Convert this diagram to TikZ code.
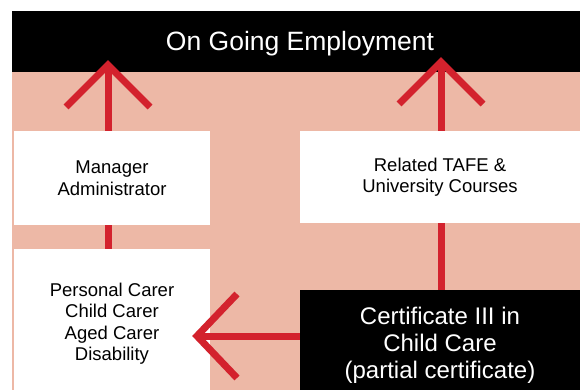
\documentclass[tikz,border=0pt]{standalone}
\usepackage{fontspec}
\setmainfont{Liberation Sans}
\usetikzlibrary{calc}
\definecolor{bgpink}{RGB}{237,184,166}
\definecolor{arrred}{RGB}{211,34,45}
\begin{document}
\begin{tikzpicture}[x=1pt,y=-1pt,
  redline/.style={draw=arrred, line width=7pt},
  headline/.style={draw=arrred, line width=7pt, line join=miter, miter limit=10},
  whitebox/.style={fill=white, inner sep=0pt, align=center, font=\fontsize{18.5}{21.5}\selectfont},
  blackbox/.style={fill=black, text=white, inner sep=0pt, align=center, font=\fontsize{24}{27}\selectfont},
  titletext/.style={text=white, inner sep=0pt, font=\fontsize{26.5}{30}\selectfont}]
\useasboundingbox (0,0) rectangle (580,390);
% background areas
\fill[bgpink] (12,72) rectangle (580,390);
\fill[black] (12,11) rectangle (580,72);
\node[titletext, anchor=base] (emp) at (300,51) {On Going Employment};
% boxes
\node[whitebox, minimum width=196pt, minimum height=94pt] (mgr) at (112,178) {Manager\\Administrator};
\node[whitebox, minimum width=196pt, minimum height=149pt] (pc) at (112,323.5) {Personal Carer\\Child Carer\\Aged Carer\\Disability};
\node[whitebox, minimum width=280pt, minimum height=92pt] (rel) at (440,177) {Related TAFE \&\\University Courses};
\node[blackbox, minimum width=280pt, minimum height=110pt] (cert) at (440,345) {Certificate III in\\Child Care\\(partial certificate)};
% connectors
\coordinate (tipL) at (108,65);
\coordinate (tipR) at (441,62);
\coordinate (tipH) at (197,336);
\draw[redline] (mgr.north -| tipL) -- (tipL);
\draw[headline] ($(tipL)+(-42,42)$) -- (tipL) -- ($(tipL)+(42,42)$);
\draw[redline] (mgr.south -| tipL) -- (pc.north -| tipL);
\draw[redline] (rel.north -| tipR) -- (tipR);
\draw[headline] ($(tipR)+(-42,42)$) -- (tipR) -- ($(tipR)+(42,42)$);
\draw[redline] (rel.south -| tipR) -- (cert.north -| tipR);
\draw[redline] (cert.west |- tipH) -- (tipH);
\draw[headline] ($(tipH)+(40,-42)$) -- (tipH) -- ($(tipH)+(40,42)$);
\end{tikzpicture}
\end{document}
